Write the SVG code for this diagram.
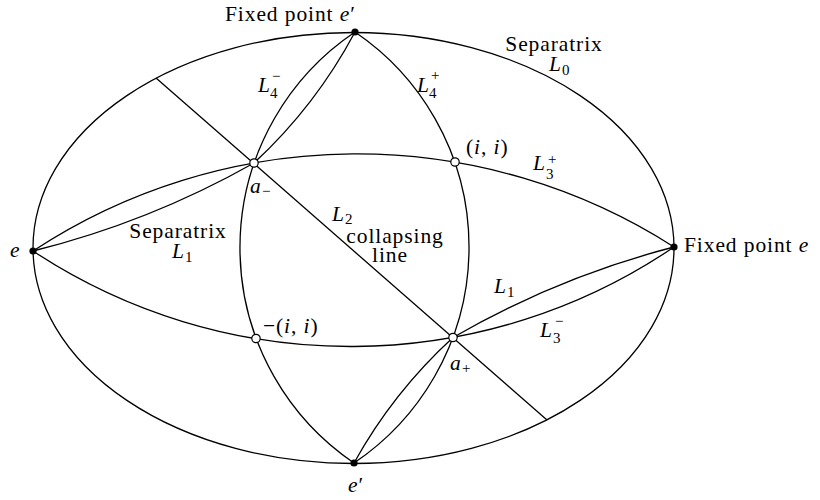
<svg xmlns="http://www.w3.org/2000/svg" width="820" height="500" viewBox="0 0 820 500">
<style>
.c{fill:none;stroke:#000;stroke-width:1.3}
.t{font-family:"Liberation Serif",serif;font-size:21.5px;fill:#000;letter-spacing:0.9px}
.i{font-style:italic}
.s{font-family:"Liberation Serif",serif;font-size:15px;fill:#000}
.fd{fill:#000;stroke:none}
.od{fill:#fff;stroke:#000;stroke-width:1.2}
</style>
<rect width="820" height="500" fill="#fff"/>
<g id="connectors">
<ellipse id="L0" class="c" cx="353.5" cy="248" rx="320.5" ry="215.5"/>
<path id="top-arc" class="c" d="M33 251 A588 588 0 0 1 674 247"/>
<path id="bottom-arc" class="c" d="M33 251 A575.5 575.5 0 0 0 674 247"/>
<path id="left-arc" class="c" d="M355 32 A260 260 0 0 0 354 463"/>
<path id="right-arc" class="c" d="M355 32 A260 260 0 0 1 354 463"/>
<path id="L1-left" class="c" d="M33 251 A881 881 0 0 0 254 163"/>
<path id="L1-right" class="c" d="M453 337.5 A881 881 0 0 1 674 247"/>
<path id="lens-top" class="c" d="M355 32 A496 496 0 0 1 254 163"/>
<path id="lens-bottom" class="c" d="M453 337.5 A496 496 0 0 0 354 463"/>
<line id="L2" class="c" x1="156" y1="78" x2="547" y2="420"/>
</g>
<g id="node-e-left"><circle class="fd" cx="33" cy="251" r="3.6"/><text class="t i" x="10" y="257">e</text></g>
<g id="node-e-right"><circle class="fd" cx="674" cy="247" r="3.6"/><text class="t" x="684" y="252">Fixed point <tspan class="i">e</tspan></text></g>
<g id="node-e-prime-top"><circle class="fd" cx="355" cy="32" r="3.6"/><text class="t" x="225" y="21">Fixed point <tspan class="i">e</tspan>′</text></g>
<g id="node-e-prime-bottom"><circle class="fd" cx="354" cy="463" r="3.6"/><text class="t" x="348" y="492"><tspan class="i">e</tspan>′</text></g>
<g id="node-a-minus"><circle class="od" cx="254" cy="163" r="4.2"/><text class="t i" x="250" y="193">a</text><text class="s" x="262" y="196">−</text></g>
<g id="node-ii"><circle class="od" cx="455" cy="162" r="4.2"/><text class="t" x="466" y="154">(<tspan class="i">i</tspan>, <tspan class="i">i</tspan>)</text></g>
<g id="node-minus-ii"><circle class="od" cx="256" cy="338.5" r="4.2"/><text class="t" x="263" y="333">−(<tspan class="i">i</tspan>, <tspan class="i">i</tspan>)</text></g>
<g id="node-a-plus"><circle class="od" cx="453" cy="337.5" r="4.2"/><text class="t i" x="450" y="370">a</text><text class="s" x="462" y="373">+</text></g>
<g id="labels">
<text class="t" x="554" y="51" text-anchor="middle">Separatrix</text>
<text class="t i" x="549" y="71">L</text><text class="s" x="562" y="75">0</text>
<text class="t i" x="258" y="92">L</text><text class="s" x="270" y="98">4</text><text class="s" x="272" y="81">−</text>
<text class="t i" x="417" y="92">L</text><text class="s" x="429" y="98">4</text><text class="s" x="431" y="80">+</text>
<text class="t i" x="533" y="170">L</text><text class="s" x="546" y="179">3</text><text class="s" x="548" y="164">+</text>
<text class="t i" x="540" y="337">L</text><text class="s" x="553" y="343">3</text><text class="s" x="555" y="326">−</text>
<text class="t i" x="494" y="293">L</text><text class="s" x="507" y="297">1</text>
<text class="t i" x="332" y="221">L</text><text class="s" x="345" y="224">2</text>
<text class="t" x="395" y="243" text-anchor="middle">collapsing</text>
<text class="t" x="390" y="262" text-anchor="middle">line</text>
<text class="t" x="178" y="238" text-anchor="middle">Separatrix</text>
<text class="t i" x="172" y="258">L</text><text class="s" x="185" y="262">1</text>
</g>
</svg>
